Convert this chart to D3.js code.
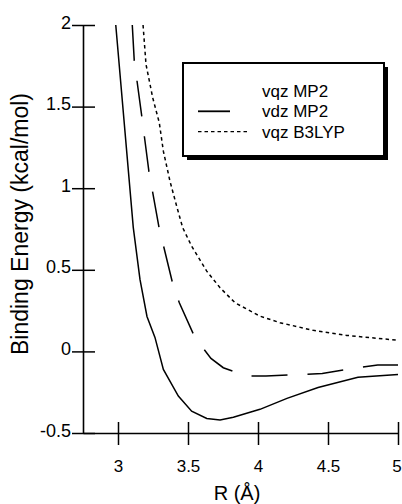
<!DOCTYPE html>
<html>
<head>
<meta charset="utf-8">
<script src="https://cdn.jsdelivr.net/npm/d3@7"></script>
<style>
  body { margin: 0; background: #fff; }
  svg { display: block; font-family: "Liberation Sans", Arial, sans-serif; }
</style>
</head>
<body>
<section></section>
<script>
// chart size
const width = 402;
const height = 504;

// tick values
const xTicks = [3, 3.5, 4, 4.5, 5];
const yTicks = [-0.5, 0, 0.5, 1, 1.5, 2];

// series: R (angstrom) and binding energy (kcal/mol)
const vqzMp2R = [2.984, 3.109, 3.157, 3.207, 3.264, 3.324, 3.431, 3.526, 3.634, 3.729, 3.824, 4.014, 4.207, 4.429, 4.714, 5.0];
const vqzMp2E = [2.0, 0.76, 0.441, 0.214, 0.086, -0.11, -0.274, -0.366, -0.411, -0.421, -0.404, -0.355, -0.288, -0.221, -0.159, -0.141];

const vdzMp2R = [3.102, 3.116, 3.169, 3.221, 3.293, 3.388, 3.438, 3.55, 3.664, 3.752, 3.919, 4.057, 4.312, 4.459, 4.716, 4.855, 5.0];
const vdzMp2E = [2.0, 1.783, 1.446, 1.101, 0.76, 0.425, 0.298, 0.084, -0.043, -0.1, -0.151, -0.151, -0.141, -0.135, -0.1, -0.084, -0.084];

const b3lypR = [3.179, 3.2, 3.248, 3.295, 3.324, 3.371, 3.419, 3.462, 3.526, 3.634, 3.729, 3.836, 4.014, 4.157, 4.395, 4.634, 4.991];
const b3lypE = [2.0, 1.759, 1.554, 1.401, 1.227, 1.044, 0.89, 0.758, 0.645, 0.492, 0.39, 0.298, 0.216, 0.176, 0.129, 0.098, 0.069];

const legendLabels = ['vqz MP2', 'vdz MP2', 'vqz B3LYP'];

const svg = d3.select('section')
  .append('svg')
  .attr('width', width)
  .attr('height', height);

// scales
const xScale = d3.scaleLinear().domain([2.75, 5]).range([83, 398]);
const yScale = d3.scaleLinear().domain([-0.5, 2]).range([433, 25]);

// y axis, ticks cross the axis line
const yAxis = d3.axisLeft(yScale)
  .tickValues(yTicks)
  .tickSizeOuter(0)
  .tickFormat((d) => String(d));

const gy = svg.append('g')
  .attr('transform', `translate(${xScale(2.75)}, 0)`)
  .call(yAxis);
gy.select('.domain').attr('stroke-width', 1.6);
gy.selectAll('.tick line').attr('x1', -11).attr('x2', 12).attr('stroke-width', 1.5);
gy.selectAll('.tick text')
  .attr('x', -12)
  .attr('dy', null)
  .attr('y', 3)
  .attr('font-size', 18)
  .attr('font-family', null)
  .attr('fill', '#000');

// x axis
const xAxis = d3.axisBottom(xScale)
  .tickValues(xTicks)
  .tickSizeOuter(0)
  .tickFormat((d) => String(d));

const gx = svg.append('g')
  .attr('transform', `translate(0, ${yScale(-0.5)})`)
  .call(xAxis);
gx.select('.domain').attr('stroke-width', 1.6);
gx.selectAll('.tick line').attr('y1', -11).attr('y2', 12).attr('stroke-width', 1.5);
gx.selectAll('.tick text')
  .attr('y', 39)
  .attr('dy', null)
  .attr('font-size', 17)
  .attr('font-family', null)
  .attr('fill', '#000');
// last label sits at the right edge
gx.selectAll('.tick text').filter((d) => d === 5).attr('dx', -1.5);

// axis titles
svg.append('text')
  .attr('x', 237)
  .attr('y', 500)
  .attr('text-anchor', 'middle')
  .attr('font-size', 20)
  .text('R (Å)');

svg.append('text')
  .attr('transform', 'translate(28, 224) rotate(-90)')
  .attr('text-anchor', 'middle')
  .attr('font-size', 23)
  .text('Binding Energy (kcal/mol)');

// curves
const line = d3.line()
  .x((d) => xScale(d[0]))
  .y((d) => yScale(d[1]));

const series = [
  { r: vqzMp2R, e: vqzMp2E, dash: 'none' },
  { r: vdzMp2R, e: vdzMp2E, dash: '36,20' },
  { r: b3lypR, e: b3lypE, dash: '3.5,3.2' }
];

svg.selectAll('path.curve')
  .data(series)
  .enter()
  .append('path')
  .attr('class', 'curve')
  .attr('d', (s) => line(d3.zip(s.r, s.e)))
  .attr('fill', 'none')
  .attr('stroke', '#000')
  .attr('stroke-width', 1.5)
  .attr('stroke-dasharray', (s) => s.dash);

// legend box with drop shadow
const legend = svg.append('g').attr('transform', 'translate(183, 63)');
legend.append('rect')
  .attr('x', 4).attr('y', 4)
  .attr('width', 201).attr('height', 93)
  .attr('fill', '#000');
legend.append('rect')
  .attr('x', 0).attr('y', 0)
  .attr('width', 201).attr('height', 93)
  .attr('fill', '#fff')
  .attr('stroke', '#000')
  .attr('stroke-width', 2);

const rows = legend.selectAll('g.row')
  .data(legendLabels)
  .enter()
  .append('g')
  .attr('class', 'row')
  .attr('transform', (d, i) => `translate(0, ${34 + i * 20.3})`);

rows.append('text')
  .attr('x', 79)
  .attr('y', 0)
  .attr('font-size', 17)
  .text((d) => d);

// legend samples (first row has none in the original)
const sampleLen = [0, 32, 50];
const sampleDash = ['none', 'none', '3.5,3'];
const sampleWidth = [0, 1.8, 1.3];
rows.filter((d, i) => sampleLen[i] > 0)
  .append('line')
  .attr('x1', 15)
  .attr('x2', (d) => 15 + sampleLen[legendLabels.indexOf(d)])
  .attr('y1', -6)
  .attr('y2', -6)
  .attr('stroke', '#000')
  .attr('stroke-width', (d) => sampleWidth[legendLabels.indexOf(d)])
  .attr('stroke-dasharray', (d) => sampleDash[legendLabels.indexOf(d)]);
</script>
</body>
</html>
